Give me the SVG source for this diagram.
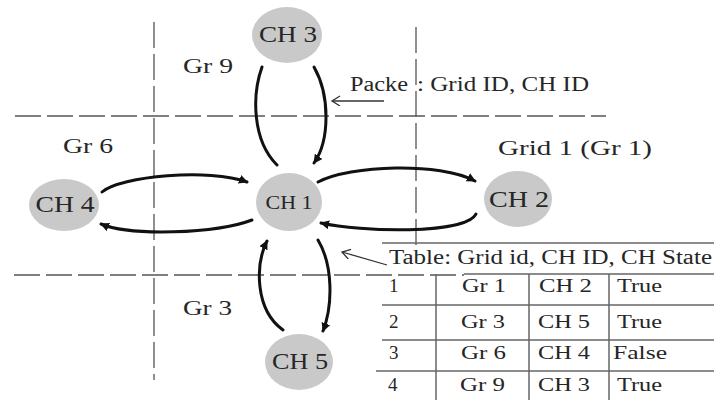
<svg xmlns="http://www.w3.org/2000/svg" width="714" height="400" viewBox="0 0 714 400">
<style>
.t{font-family:"Liberation Serif","Times New Roman",serif;fill:#262626}
.n{font-size:23px;text-anchor:middle}
.lbl{font-size:22px}
.c{font-size:19px}
.node{fill:#c9c9c9}
.grid{stroke:#555;stroke-width:1.3;fill:none;stroke-dasharray:26 6}
.tbl{stroke:#666;stroke-width:1.5;fill:none}
.arc{stroke:#111;stroke-width:3;fill:none;stroke-linecap:round}
.ptr{stroke:#333;stroke-width:1.3;fill:none}
</style>
<defs>
<marker id="ah" markerUnits="userSpaceOnUse" markerWidth="12" markerHeight="12" refX="8" refY="4.5" orient="auto">
<path d="M0,0 L9,4.5 L0,9 Z" fill="#111"/>
</marker>
<marker id="oh" markerUnits="userSpaceOnUse" markerWidth="12" markerHeight="12" refX="9" refY="5" orient="auto">
<path d="M1,0 L9,5 L1,10" fill="none" stroke="#333" stroke-width="1.3"/>
</marker>
</defs>
<g id="grid-lines">
<line class="grid" x1="154" y1="22" x2="154" y2="380"/>
<line class="grid" x1="416" y1="27" x2="416" y2="250"/>
<line class="grid" x1="15" y1="116" x2="606" y2="116"/>
<line class="grid" x1="14" y1="275" x2="464" y2="275"/>
</g>
<g id="region-labels">
<text class="t lbl" x="183" y="73" textLength="50" lengthAdjust="spacingAndGlyphs">Gr 9</text>
<text class="t lbl" x="63" y="153" textLength="50" lengthAdjust="spacingAndGlyphs">Gr 6</text>
<text class="t lbl" x="183" y="315" textLength="49" lengthAdjust="spacingAndGlyphs">Gr 3</text>
<text class="t lbl" x="498" y="155" textLength="154" lengthAdjust="spacingAndGlyphs">Grid 1 (Gr 1)</text>
</g>
<g id="connectors">
<path class="arc" d="M102,192 C120,176 210,168 247,182" marker-end="url(#ah)"/>
<path class="arc" d="M252,220 C215,234 130,236 101,224" marker-end="url(#ah)"/>
<path class="arc" d="M318,182 C350,165 440,162 475,181" marker-end="url(#ah)"/>
<path class="arc" d="M476,214 C465,235 360,232 321,223" marker-end="url(#ah)"/>
<path class="arc" d="M314,67 C330,95 330,140 314,163" marker-end="url(#ah)"/>
<path class="arc" d="M277,165 C252,140 252,95 262,67"/>
<path class="arc" d="M283,330 C255,310 255,265 267,241" marker-end="url(#ah)"/>
<path class="arc" d="M318,240 C333,265 333,305 323,331" marker-end="url(#ah)"/>
<line class="ptr" x1="384" y1="101" x2="332" y2="101" marker-end="url(#oh)"/>
<line class="ptr" x1="387" y1="265" x2="342" y2="252" marker-end="url(#oh)"/>
</g>
<g id="CH3"><ellipse class="node" cx="287" cy="35" rx="35" ry="28"/><text class="t n" x="288" y="42" textLength="58" lengthAdjust="spacingAndGlyphs">CH 3</text></g>
<g id="CH4"><ellipse class="node" cx="64" cy="205" rx="35" ry="26"/><text class="t n" x="65" y="212" textLength="59" lengthAdjust="spacingAndGlyphs">CH 4</text></g>
<g id="CH1"><ellipse class="node" cx="289" cy="202" rx="33" ry="29"/><text class="t n" x="289" y="209" style="font-size:18px" textLength="47" lengthAdjust="spacingAndGlyphs">CH 1</text></g>
<g id="CH2"><ellipse class="node" cx="518" cy="199" rx="34" ry="28"/><text class="t n" x="519" y="207" textLength="60" lengthAdjust="spacingAndGlyphs">CH 2</text></g>
<g id="CH5"><ellipse class="node" cx="299" cy="362" rx="34" ry="28"/><text class="t n" x="300" y="369" textLength="56" lengthAdjust="spacingAndGlyphs">CH 5</text></g>
<g id="packet-label">
<text class="t" x="350" y="91" style="font-size:20px" textLength="58" lengthAdjust="spacingAndGlyphs">Packe</text>
<text class="t" x="417" y="91" style="font-size:20px" textLength="172" lengthAdjust="spacingAndGlyphs">: Grid ID, CH ID</text>
</g>
<g id="table">
<line class="tbl" x1="382" y1="243" x2="714" y2="243"/>
<line class="tbl" x1="464" y1="274" x2="714" y2="274"/>
<line class="tbl" x1="382" y1="305" x2="714" y2="305"/>
<line class="tbl" x1="382" y1="340" x2="714" y2="340"/>
<line class="tbl" x1="376" y1="371" x2="714" y2="371"/>
<line class="tbl" x1="436" y1="274" x2="436" y2="400"/>
<line class="tbl" x1="529" y1="274" x2="529" y2="400"/>
<line class="tbl" x1="609" y1="274" x2="609" y2="400"/>
<text class="t" x="389" y="264" style="font-size:20px" textLength="323" lengthAdjust="spacingAndGlyphs">Table: Grid id, CH ID, CH State</text>
<text class="t c" x="389" y="292">1</text>
<text class="t c" x="462" y="292" textLength="44" lengthAdjust="spacingAndGlyphs">Gr 1</text>
<text class="t c" x="539" y="292" textLength="53" lengthAdjust="spacingAndGlyphs">CH 2</text>
<text class="t c" x="617" y="292" textLength="45" lengthAdjust="spacingAndGlyphs">True</text>
<text class="t c" x="389" y="328">2</text>
<text class="t c" x="461" y="328" textLength="44" lengthAdjust="spacingAndGlyphs">Gr 3</text>
<text class="t c" x="538" y="328" textLength="52" lengthAdjust="spacingAndGlyphs">CH 5</text>
<text class="t c" x="617" y="328" textLength="45" lengthAdjust="spacingAndGlyphs">True</text>
<text class="t c" x="389" y="359">3</text>
<text class="t c" x="461" y="359" textLength="45" lengthAdjust="spacingAndGlyphs">Gr 6</text>
<text class="t c" x="538" y="359" textLength="52" lengthAdjust="spacingAndGlyphs">CH 4</text>
<text class="t c" x="613" y="359" textLength="54" lengthAdjust="spacingAndGlyphs">False</text>
<text class="t c" x="388" y="391">4</text>
<text class="t c" x="460" y="391" textLength="45" lengthAdjust="spacingAndGlyphs">Gr 9</text>
<text class="t c" x="538" y="391" textLength="52" lengthAdjust="spacingAndGlyphs">CH 3</text>
<text class="t c" x="617" y="391" textLength="45" lengthAdjust="spacingAndGlyphs">True</text>
</g>
</svg>
